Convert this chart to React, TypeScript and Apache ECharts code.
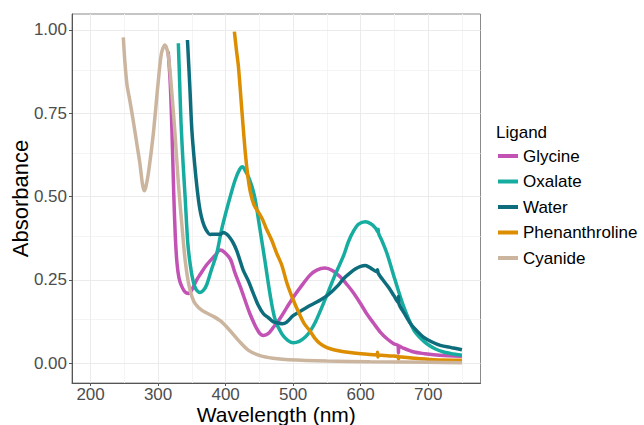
import React, { useEffect, useRef } from "react";
import * as echarts from "echarts";

const seriesNames = ["Glycine", "Oxalate", "Water", "Phenanthroline", "Cyanide"];
const seriesColors = ["#C253B4", "#16ADA0", "#0E6D7C", "#DC8D00", "#CBB59F"];

const glycine: [number, number][] = [
  [315, 0.935], [318, 0.84], [320.5, 0.7], [323, 0.52], [325.5, 0.38], [328, 0.3], [331, 0.255],
  [335, 0.23], [340, 0.213], [345, 0.209], [350, 0.22], [357, 0.249], [362, 0.265], [372, 0.295],
  [384, 0.322], [392, 0.339], [398, 0.333], [407, 0.312], [414, 0.27], [422, 0.228], [436, 0.148],
  [449, 0.093], [456, 0.083], [463, 0.088], [471, 0.108], [481, 0.135], [491, 0.168], [501, 0.2],
  [511, 0.228], [525, 0.264], [535, 0.279], [547, 0.285], [558, 0.278], [570, 0.258], [580, 0.235],
  [590, 0.209], [600, 0.178], [609, 0.148], [619, 0.12], [629, 0.093], [639, 0.073], [649, 0.058],
  [655.5, 0.052], [656, 0.03], [656.5, 0.052], [663, 0.045], [679, 0.033], [695, 0.028], [708, 0.025],
  [730, 0.022], [750, 0.02],
];

const oxalate: [number, number][] = [
  [330, 0.96], [332, 0.84], [334, 0.72], [337, 0.6], [340, 0.5], [344, 0.36], [348, 0.29],
  [352, 0.245], [356, 0.222], [362, 0.212], [367, 0.218], [372, 0.235], [379, 0.28], [387, 0.33],
  [394, 0.4], [404, 0.479], [414, 0.549], [421, 0.582], [425, 0.589], [429, 0.578], [434, 0.558],
  [439, 0.53], [444, 0.489], [451, 0.4], [458, 0.31], [466, 0.204], [473, 0.133], [483, 0.088],
  [492, 0.068], [500, 0.061], [509, 0.065], [518, 0.078], [525, 0.095], [533, 0.123], [548, 0.194],
  [562, 0.264], [575, 0.324], [582, 0.365], [590, 0.398], [597, 0.417], [607, 0.424], [615, 0.418],
  [622, 0.405], [625.5, 0.394], [626, 0.402], [626.5, 0.39], [632, 0.365], [639, 0.329], [651, 0.249],
  [664, 0.168], [679, 0.098], [690, 0.072], [698, 0.058], [710, 0.043], [723, 0.033], [737, 0.027],
  [750, 0.023],
];

const water: [number, number][] = [
  [343.5, 0.97], [347, 0.83], [350, 0.7], [354, 0.6], [358, 0.52], [362, 0.46], [366, 0.425],
  [371, 0.4], [377, 0.386], [382, 0.387], [392, 0.387], [397, 0.392], [401, 0.388], [405, 0.38],
  [410, 0.365], [416, 0.34], [421, 0.31], [426, 0.279], [434, 0.245], [441, 0.209], [448, 0.175],
  [456, 0.148], [464, 0.135], [471, 0.123], [478, 0.12], [484, 0.118], [490, 0.122], [500, 0.142],
  [510, 0.155], [520, 0.167], [530, 0.178], [541, 0.19], [552, 0.205], [567, 0.234], [575, 0.254],
  [584, 0.27], [592, 0.282], [600, 0.29], [607, 0.293], [615, 0.285], [624, 0.274], [625, 0.28],
  [626, 0.27], [632, 0.252], [641, 0.228], [649, 0.203], [655.5, 0.182], [656, 0.2], [656.5, 0.18],
  [665, 0.148], [674, 0.118], [684, 0.095], [693, 0.078], [705, 0.064], [718, 0.053], [735, 0.046],
  [750, 0.04],
];

const phenanthroline: [number, number][] = [
  [413, 0.995], [416, 0.94], [419, 0.89], [424, 0.76], [429, 0.635], [433, 0.56], [437, 0.51],
  [442, 0.475], [447, 0.458], [454, 0.434], [461, 0.4], [468, 0.37], [476, 0.328], [483, 0.295],
  [491, 0.239], [500, 0.19], [508, 0.153], [516, 0.12], [525, 0.096], [532, 0.075], [540, 0.058],
  [550, 0.046], [560, 0.04], [575, 0.034], [590, 0.03], [605, 0.027], [624.5, 0.024], [625, 0.032],
  [625.5, 0.018], [626, 0.024], [645, 0.021], [655.5, 0.019], [656, 0.012], [656.5, 0.019],
  [680, 0.014], [708, 0.01], [750, 0.008],
];

const cyanide: [number, number][] = [
  [248.5, 0.978], [251, 0.9], [254, 0.835], [258, 0.79], [263, 0.73], [268, 0.665], [273, 0.6],
  [277, 0.535], [279.5, 0.517], [282, 0.53], [286, 0.575], [293, 0.69], [300, 0.84], [305, 0.93],
  [310, 0.955], [315, 0.925], [320, 0.82], [325, 0.69], [330, 0.54], [335, 0.42], [340, 0.31],
  [345, 0.24], [350, 0.2], [355, 0.178], [365, 0.158], [380, 0.142], [392, 0.127], [404, 0.103],
  [419, 0.068], [434, 0.038], [451, 0.022], [470, 0.014], [493, 0.01], [550, 0.006], [614, 0.004],
  [700, 0.002], [750, 0.001],
];

const seriesData = [glycine, oxalate, water, phenanthroline, cyanide];

const xTicks = [200, 300, 400, 500, 600, 700];
const xMinorTicks = [250, 350, 450, 550, 650, 750];
const yTicks = [0, 0.25, 0.5, 0.75, 1];
const yMinorTicks = [0.125, 0.375, 0.625, 0.875];

const xTitle = "Wavelength (nm)";
const yTitle = "Absorbance";
const legendTitle = "Ligand";

const FONT = "Liberation Sans, Arial, sans-serif";

export default function App() {
  const ref = useRef<HTMLDivElement>(null);
  useEffect(() => {
    document.body.style.margin = "0";
    const chart = echarts.init(ref.current!, null, { renderer: "svg" });
    const gridLines = (major: number[], minor: number[], axis: "xAxis" | "yAxis") => ({
      major: major.map((v) => ({ [axis]: v })),
      minor: minor.map((v) => ({ [axis]: v })),
    });
    const gx = gridLines(xTicks, xMinorTicks, "xAxis");
    const gy = gridLines(yTicks, yMinorTicks, "yAxis");
    chart.setOption({
      animation: false,
      textStyle: { fontFamily: FONT },
      grid: {
        left: 72,
        top: 14,
        right: 163.5,
        bottom: 42,
        containLabel: false,
        outerBoundsMode: "none",
        show: true,
        borderColor: "#8A8A8A",
        borderWidth: 1,
        backgroundColor: "#FFFFFF",
      },
      title: {
        text: legendTitle,
        left: 496,
        top: 124,
        padding: 0,
        textStyle: { fontSize: 17, fontWeight: "normal", color: "#000", fontFamily: FONT },
      },
      graphic: [
        {
          type: "text",
          x: 276.25,
          y: 414.5,
          silent: true,
          style: {
            text: xTitle,
            fontSize: 21,
            lineHeight: 21,
            fontFamily: FONT,
            fill: "#000",
            textAlign: "center",
            textVerticalAlign: "middle",
          },
        },
      ],
      legend: {
        data: seriesNames,
        orient: "vertical",
        left: 498,
        top: 146,
        padding: 0,
        itemWidth: 20,
        itemHeight: 4,
        itemGap: 5.5,
        icon: "rect",
        textStyle: { fontSize: 17, color: "#000", fontFamily: FONT, lineHeight: 20 },
      },
      xAxis: {
        type: "value",
        min: 172.5,
        max: 777.5,
        splitLine: { show: false },
        axisLine: { onZero: false, lineStyle: { color: "#555", width: 1 } },
        axisTick: { customValues: xTicks, length: 3, lineStyle: { color: "#555" } },
        axisLabel: {
          customValues: xTicks,
          fontSize: 17,
          lineHeight: 17,
          color: "#4D4D4D",
          margin: 3,
          fontFamily: FONT,
          formatter: (v: number) => String(v),
        },
      },
      yAxis: {
        type: "value",
        min: -0.06,
        max: 1.048,
        name: yTitle,
        nameLocation: "middle",
        nameRotate: 90,
        nameGap: 41,
        nameMoveOverlap: false,
        nameTextStyle: { fontSize: 22, color: "#000", fontFamily: FONT },
        splitLine: { show: false },
        axisLine: { show: true, onZero: false, lineStyle: { color: "#555", width: 1 } },
        axisTick: { show: true, customValues: yTicks, length: 3, lineStyle: { color: "#555" } },
        axisLabel: {
          customValues: yTicks,
          fontSize: 17,
          color: "#4D4D4D",
          margin: 5,
          fontFamily: FONT,
          formatter: (v: number) => v.toFixed(2),
        },
      },
      series: [
        {
          type: "line",
          name: "_minorGrid",
          data: [],
          silent: true,
          markLine: {
            silent: true,
            z: 0,
            symbol: ["none", "none"],
            label: { show: false },
            emphasis: { disabled: true },
            lineStyle: { color: "#F4F4F4", width: 1, type: "solid" },
            data: [...gx.minor, ...gy.minor],
          },
        },
        {
          type: "line",
          name: "_majorGrid",
          data: [],
          silent: true,
          markLine: {
            silent: true,
            z: 0,
            symbol: ["none", "none"],
            label: { show: false },
            emphasis: { disabled: true },
            lineStyle: { color: "#EBEBEB", width: 1, type: "solid" },
            data: [...gx.major, ...gy.major],
          },
        },
        ...seriesNames.map((name, i) => ({
          type: "line",
          name,
          data: seriesData[i],
          showSymbol: false,
          symbol: "none",
          smooth: 0.3,
          z: 2 + i,
          color: seriesColors[i],
          lineStyle: { color: seriesColors[i], width: 3.5 },
          emphasis: { disabled: true },
        })),
      ],
    });
    return () => chart.dispose();
  }, []);
  return <div ref={ref} style={{ width: 644, height: 425 }} />;
}
